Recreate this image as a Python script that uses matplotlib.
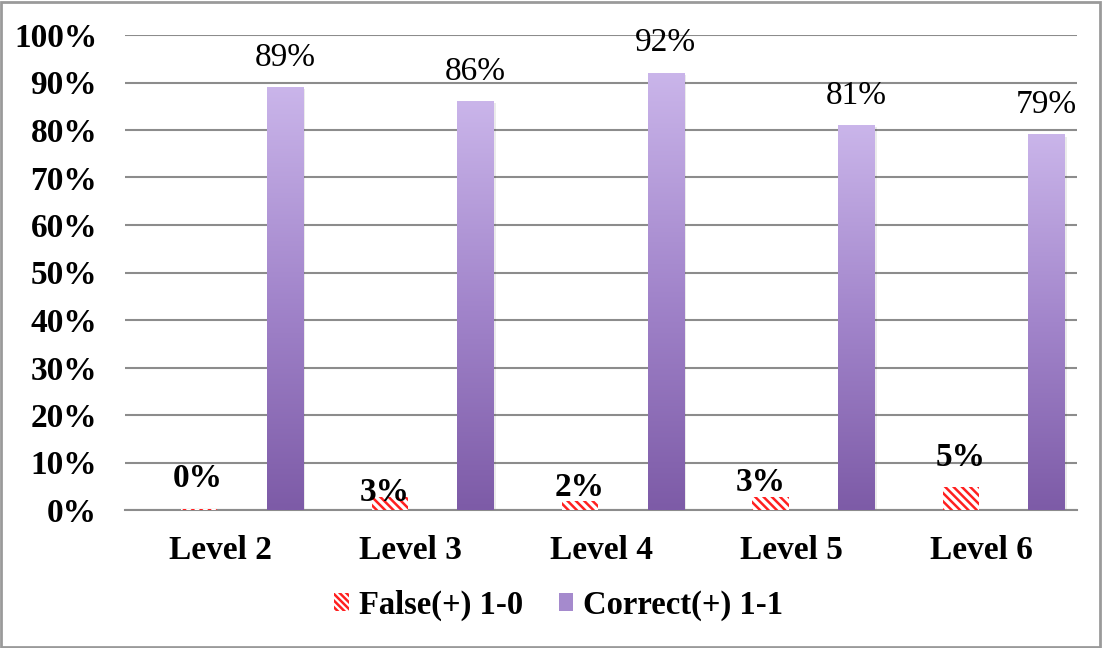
import matplotlib.pyplot as plt
import numpy as np
from matplotlib.colors import LinearSegmentedColormap
from matplotlib.patches import Patch, Rectangle

plt.rcParams['font.family'] = ['Liberation Serif', 'DejaVu Serif']
plt.rcParams['hatch.linewidth'] = 1.8

categories = ["Level 2", "Level 3", "Level 4", "Level 5", "Level 6"]
false_pos = [0.002, 0.027, 0.018, 0.028, 0.048]
correct_pos = [0.89, 0.86, 0.92, 0.81, 0.79]
false_labels = ["0%", "3%", "2%", "3%", "5%"]
correct_labels = ["89%", "86%", "92%", "81%", "79%"]
series_names = ["False(+) 1-0", "Correct(+) 1-1"]

# label nudges (pixels) for the false series, as placed in the original
false_dx = [-2, -5, 0, -10, 0]
false_dy = [31, 5, 14, 14, 30]

fig = plt.figure(figsize=(11.02, 6.48), dpi=100)
ax = fig.add_axes([125 / 1102, 1 - 510 / 648, 952 / 1102, 475 / 648])

x = np.arange(len(categories))
w = 0.19
off_false = -0.11
off_corr = 0.34

purple = LinearSegmentedColormap.from_list("pur", ["#7D5BA7", "#A285CB", "#CAB5EA"])
grad = np.linspace(0, 1, 256).reshape(-1, 1)

# false bars (hatched red on white)
ax.bar(x + off_false, false_pos, w, color='white', edgecolor='#FF2020', linewidth=0,
       hatch='\\\\\\\\', zorder=3)

# correct bars with vertical gradient
for xi, v in zip(x + off_corr, correct_pos):
    ax.add_patch(Rectangle((xi - w / 2 + 0.012, 0), w, v - 0.004,
                           color='#000000', alpha=0.08, zorder=2, lw=0))
    ax.imshow(grad, extent=[xi - w / 2, xi + w / 2, 0, v], origin='lower',
              aspect='auto', cmap=purple, zorder=3)

for xi, v, lab in zip(x + off_corr, correct_pos, correct_labels):
    ax.annotate(lab, (xi, v), xytext=(0, 30 * 0.72), textcoords='offset points',
                ha='center', va='center', fontsize=24)

for xi, v, lab, dx, dy in zip(x + off_false, false_pos, false_labels, false_dx, false_dy):
    ax.annotate(lab, (xi, v), xytext=(dx * 0.72, dy * 0.72), textcoords='offset points',
                ha='center', va='center', fontsize=24, fontweight='bold', zorder=5)

ax.set_xlim(-0.5, len(categories) - 0.5)
ax.set_ylim(0, 1)
yt = np.arange(0, 1.01, 0.1)
ax.set_yticks(yt)
ax.set_yticklabels([f"{int(round(t * 100))}%" for t in yt], fontsize=24, fontweight='bold')
ax.set_xticks(x)
ax.set_xticklabels(categories, fontsize=24, fontweight='bold')
ax.tick_params(length=0)
ax.tick_params(axis='y', pad=20)
ax.tick_params(axis='x', pad=18)
ax.grid(axis='y', color='#8C8C8C', lw=1.5, zorder=1)
ax.set_axisbelow(True)
for s in ['top', 'right', 'left']:
    ax.spines[s].set_visible(False)
ax.spines['bottom'].set_color('#8C8C8C')
ax.spines['bottom'].set_linewidth(1.5)

handles = [Patch(facecolor='white', edgecolor='#FF2020', linewidth=0, hatch='\\\\\\\\\\'),
           Patch(facecolor='#A58ACD', edgecolor='none')]
fig.legend(handles, series_names, loc='center', bbox_to_anchor=(0.507, 1 - 605 / 648),
           ncol=2, frameon=False, prop={'size': 23.5, 'weight': 'bold'},
           handlelength=0.45, handleheight=0.45, handletextpad=0.3, columnspacing=1.1)

fig.patches.append(Rectangle((0.001, 0.002), 0.997, 0.995, transform=fig.transFigure,
                             fill=False, edgecolor='#9A9A9A', lw=2))

fig.savefig("out.png", dpi=100)
